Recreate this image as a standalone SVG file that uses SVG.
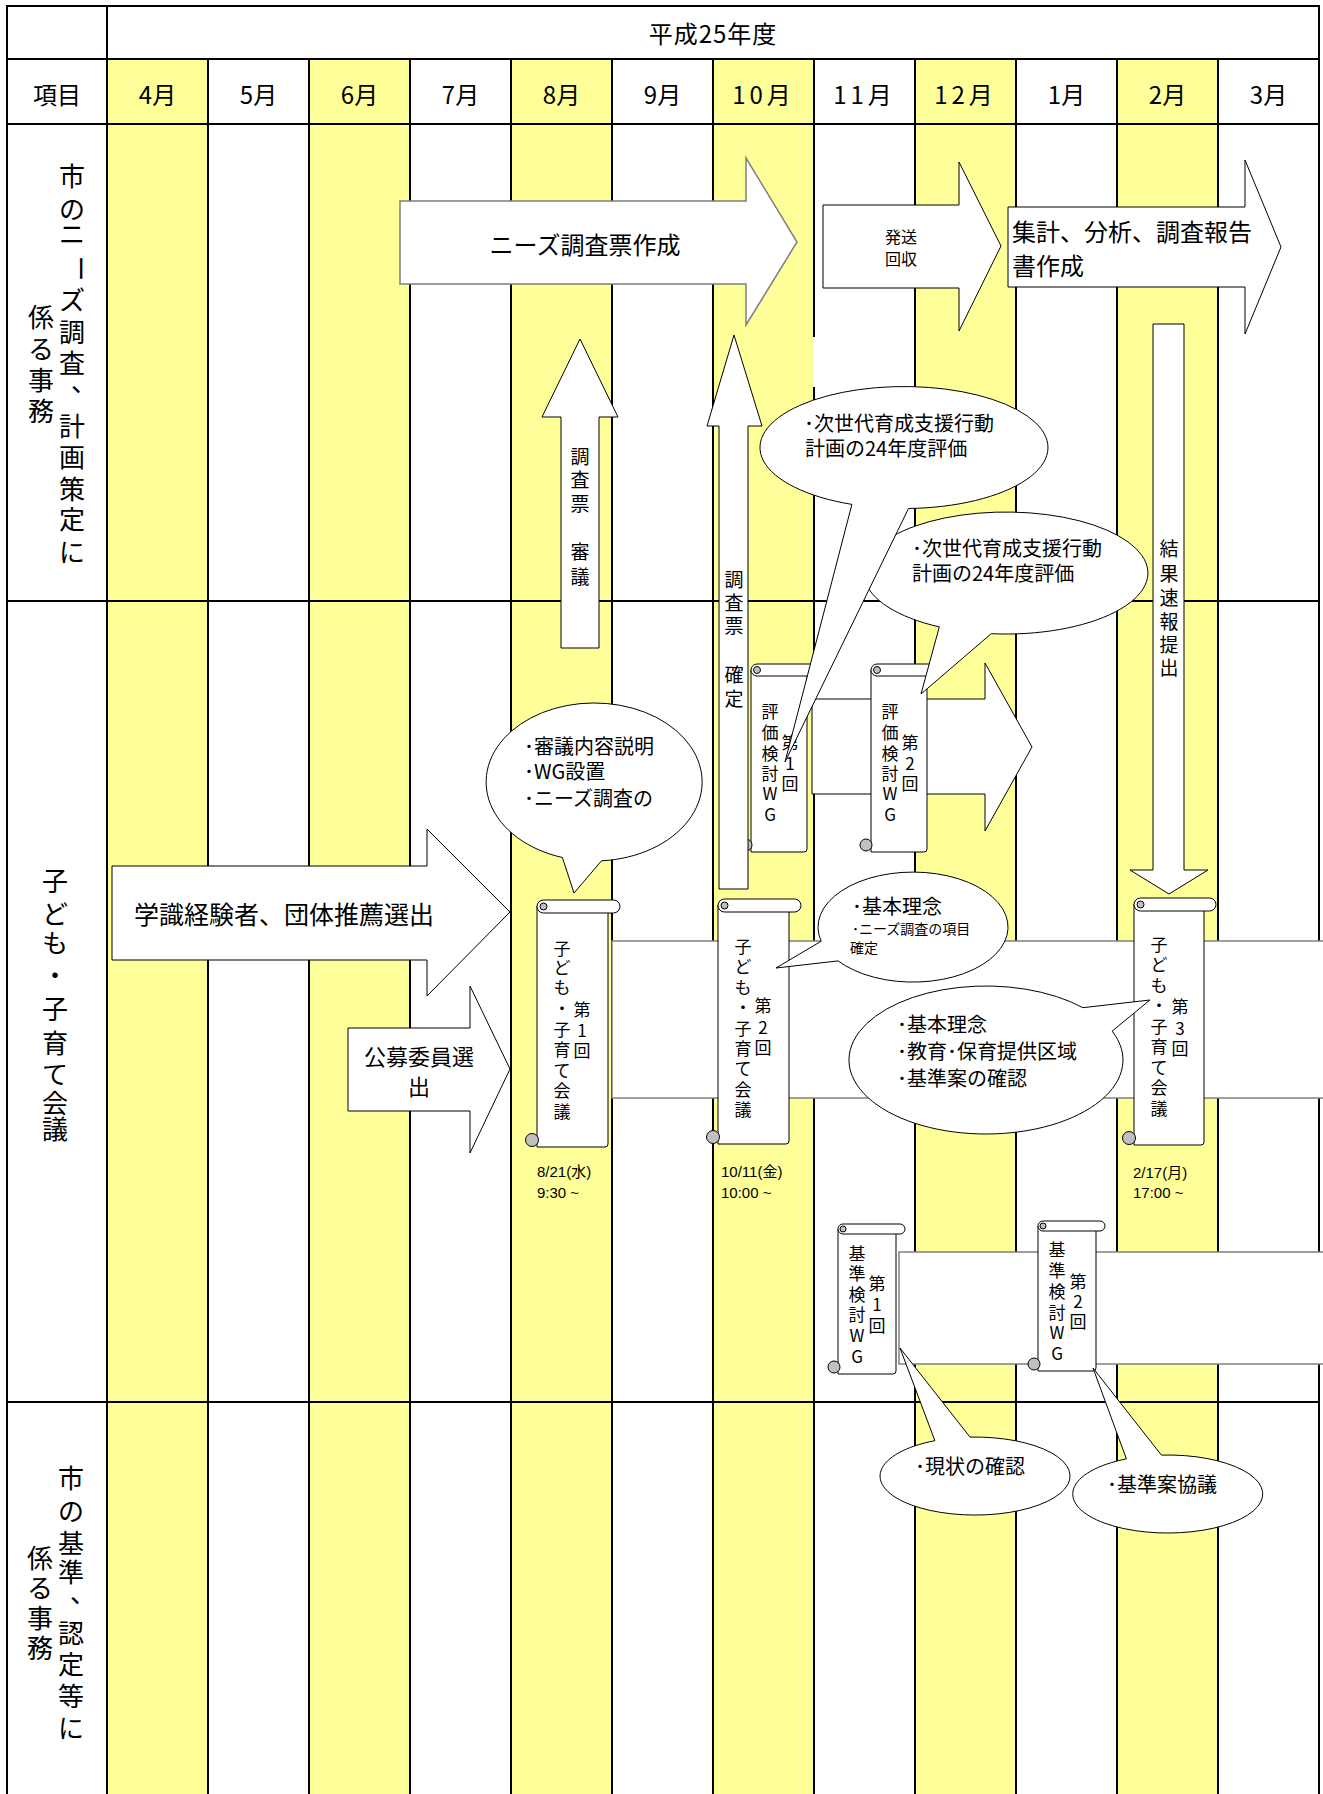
<svg xmlns="http://www.w3.org/2000/svg" width="1323" height="1794" viewBox="0 0 1323 1794">
<defs>
<style>
text{font-family:"Noto Sans CJK JP","Noto Sans",sans-serif;fill:#000;dominant-baseline:central}
.c{text-anchor:middle}
.grid{stroke:#000;stroke-width:2;fill:none}
.yel{fill:#FFFF99}
.arrow{fill:#fff;stroke:#000;stroke-width:1}
.arrowg{fill:#fff;stroke:#7f7f7f;stroke-width:1.5}
.band{fill:#fff;stroke:#808080;stroke-width:1.5}
.scroll{fill:#fff;stroke:#000;stroke-width:1}
.curl{fill:#c0c0c0;stroke:#000;stroke-width:1}
.callout{fill:#fff;stroke:#000;stroke-width:1}
.side{font-size:26px}
.mon{font-size:24px}
.sc{font-size:17px}
.cl{font-size:20px}
.dt{font-size:15px;font-family:"Liberation Sans","Noto Sans CJK JP",sans-serif}
</style>
</defs>
<rect width="1323" height="1794" fill="#fff"/>
<g id="grid">
<rect class="yel" x="107" y="59" width="101" height="1735"/>
<rect class="yel" x="309" y="59" width="101" height="1735"/>
<rect class="yel" x="511" y="59" width="101" height="1735"/>
<rect class="yel" x="713" y="59" width="101" height="1735"/>
<rect class="yel" x="915" y="59" width="101" height="1735"/>
<rect class="yel" x="1117" y="59" width="101" height="1735"/>
<path class="grid" d="M7,6H1319M7,59H1319M7,124H1319M7,601H1319M7,1402H1319M7,5V1794M1319,5V1794M107,6V1794M208,59V1794M309,59V1794M410,59V1794M511,59V1794M612,59V1794M713,59V1794M814,59V337M814,387V1794M915,59V1794M1016,59V1794M1117,59V1794M1218,59V1794"/>
</g>
<g id="header">
<text class="c mon" x="713" y="32" letter-spacing="1">平成25年度</text>
<text class="c mon" x="57" y="93">項目</text>
<text class="c mon" x="157.5" y="93">4月</text>
<text class="c mon" x="258.5" y="93">5月</text>
<text class="c mon" x="359.5" y="93">6月</text>
<text class="c mon" x="460.5" y="93">7月</text>
<text class="c mon" x="561.5" y="93">8月</text>
<text class="c mon" x="662.5" y="93">9月</text>
<text class="c mon" x="763.5" y="93" letter-spacing="4">10月</text>
<text class="c mon" x="864.5" y="93" letter-spacing="4">11月</text>
<text class="c mon" x="965.5" y="93" letter-spacing="4">12月</text>
<text class="c mon" x="1066.5" y="93">1月</text>
<text class="c mon" x="1167.5" y="93">2月</text>
<text class="c mon" x="1268.5" y="93">3月</text>
</g>
<g id="row-labels">
<text class="c side"><tspan x="72" y="174">市</tspan><tspan x="72" y="207">の</tspan><tspan x="72" y="232">ニ</tspan><tspan x="85" y="244" rotate="90">ー</tspan><tspan x="72" y="298">ズ</tspan><tspan x="72" y="330">調</tspan><tspan x="72" y="361">査</tspan><tspan x="84" y="380">、</tspan><tspan x="72" y="424">計</tspan><tspan x="72" y="455">画</tspan><tspan x="72" y="487">策</tspan><tspan x="72" y="517">定</tspan><tspan x="72" y="550">に</tspan><tspan x="41" y="315">係</tspan><tspan x="41" y="347">る</tspan><tspan x="41" y="378">事</tspan><tspan x="41" y="409">務</tspan></text>
<text class="c side"><tspan x="55" y="879">子</tspan><tspan x="55" y="912">ど</tspan><tspan x="55" y="941">も</tspan><tspan x="55" y="973">・</tspan><tspan x="55" y="1007">子</tspan><tspan x="55" y="1041">育</tspan><tspan x="55" y="1072">て</tspan><tspan x="55" y="1101">会</tspan><tspan x="55" y="1127">議</tspan></text>
<text class="c side"><tspan x="71" y="1476">市</tspan><tspan x="71" y="1509">の</tspan><tspan x="71" y="1541">基</tspan><tspan x="71" y="1570">準</tspan><tspan x="83" y="1591">、</tspan><tspan x="71" y="1631">認</tspan><tspan x="71" y="1662">定</tspan><tspan x="71" y="1694">等</tspan><tspan x="71" y="1726">に</tspan><tspan x="40" y="1556">係</tspan><tspan x="40" y="1586">る</tspan><tspan x="40" y="1616">事</tspan><tspan x="40" y="1646">務</tspan></text>
</g>
<g id="connectors">
<rect id="band-kaigi" class="band" x="612" y="941" width="715" height="157"/>
<rect id="band-kijun" class="band" x="899" y="1252" width="428" height="112"/>
<g id="arrow-needs">
<polygon class="arrowg" points="400,201 746,201 746,158 797,242 746,325 746,284 400,284"/>
<text class="c" x="585" y="243" font-size="24">ニーズ調査票作成</text>
</g>
<g id="arrow-hassou">
<polygon class="arrow" points="823,205 959,205 959,162 1001,246 959,331 959,288 823,288"/>
<text class="c" x="901" y="236" font-size="16">発送</text>
<text class="c" x="901" y="258" font-size="16">回収</text>
</g>
<g id="arrow-shukei">
<polygon class="arrow" points="1008,207 1245,207 1245,160 1281,247 1245,334 1245,287 1008,287"/>
<text x="1012" y="230" font-size="24">集計、分析、調査報告</text>
<text x="1012" y="264" font-size="24">書作成</text>
</g>
<g id="arrow-shingi">
<polygon class="arrow" points="561,648 561,417 542,417 580,339 618,417 599,417 599,648"/>
<text class="c" font-size="19"><tspan x="580" y="455">調</tspan><tspan x="580" y="478">査</tspan><tspan x="580" y="502">票</tspan><tspan x="580" y="550">審</tspan><tspan x="580" y="575">議</tspan></text>
</g>
<g id="arrow-sokuhou">
<polygon class="arrow" points="1153,324 1184,324 1184,870 1208,870 1169,894 1130,870 1153,870"/>
<text class="c" font-size="19"><tspan x="1169" y="547">結</tspan><tspan x="1169" y="572">果</tspan><tspan x="1169" y="596">速</tspan><tspan x="1169" y="620">報</tspan><tspan x="1169" y="643">提</tspan><tspan x="1169" y="666">出</tspan></text>
</g>
<g id="arrow-hyouka">
<polygon class="arrow" points="812,699 985,699 985,663 1032,747 985,831 985,794 812,794"/>
</g>
<g id="arrow-gakushiki">
<polygon class="arrow" points="112,866 427,866 427,829 510,912 427,996 427,960 112,960"/>
<text x="134" y="913" font-size="25">学識経験者、団体推薦選出</text>
</g>
<g id="arrow-koubo">
<polygon class="arrow" points="348,1028 470,1028 470,986 510,1069 470,1153 470,1111 348,1111"/>
<text class="c" x="419" y="1055" font-size="22">公募委員選</text>
<text class="c" x="419" y="1085" font-size="22">出</text>
</g>
</g>
<g id="scroll-hyouka1">
<path class="scroll" d="M751,670V852H804Q807,852 807,849V670Z"/>
<rect class="scroll" x="751" y="664" width="67" height="12" rx="6"/>
<circle class="curl" cx="757" cy="670" r="3.5"/>
<circle class="curl" cx="746" cy="845" r="6"/>
<text class="c sc"><tspan x="790" y="741">第</tspan><tspan x="790" y="762">1</tspan><tspan x="790" y="782">回</tspan><tspan x="770" y="710">評</tspan><tspan x="770" y="731">価</tspan><tspan x="770" y="752">検</tspan><tspan x="770" y="772">討</tspan><tspan x="770" y="792">W</tspan><tspan x="770" y="813">G</tspan></text>
</g>
<g id="scroll-hyouka2">
<path class="scroll" d="M871,670V852H924Q927,852 927,849V670Z"/>
<rect class="scroll" x="871" y="664" width="67" height="12" rx="6"/>
<circle class="curl" cx="877" cy="670" r="3.5"/>
<circle class="curl" cx="866" cy="845" r="6"/>
<text class="c sc"><tspan x="910" y="741">第</tspan><tspan x="910" y="762">2</tspan><tspan x="910" y="782">回</tspan><tspan x="890" y="710">評</tspan><tspan x="890" y="731">価</tspan><tspan x="890" y="752">検</tspan><tspan x="890" y="772">討</tspan><tspan x="890" y="792">W</tspan><tspan x="890" y="813">G</tspan></text>
</g>
<g id="scroll-kaigi1">
<path class="scroll" d="M537,906V1147H605Q608,1147 608,1144V906Z"/>
<rect class="scroll" x="537" y="900" width="83" height="13" rx="6.5"/>
<circle class="curl" cx="543.5" cy="906.5" r="3.5"/>
<circle class="curl" cx="532" cy="1140" r="6.5"/>
<text class="c sc"><tspan x="582" y="1008">第</tspan><tspan x="582" y="1029">1</tspan><tspan x="582" y="1049">回</tspan><tspan x="562" y="947">子</tspan><tspan x="562" y="966">ど</tspan><tspan x="562" y="986">も</tspan><tspan x="562" y="1007">・</tspan><tspan x="562" y="1028">子</tspan><tspan x="562" y="1048">育</tspan><tspan x="562" y="1069">て</tspan><tspan x="562" y="1089">会</tspan><tspan x="562" y="1110">議</tspan></text>
<text class="dt" x="537" y="1171">8/21(水)</text>
<text class="dt" x="537" y="1192">9:30 ~</text>
</g>
<g id="scroll-kaigi2">
<path class="scroll" d="M718,905V1144H786Q789,1144 789,1141V905Z"/>
<rect class="scroll" x="718" y="899" width="83" height="13" rx="6.5"/>
<circle class="curl" cx="724.5" cy="905.5" r="3.5"/>
<circle class="curl" cx="713" cy="1137" r="6.5"/>
<text class="c sc"><tspan x="763" y="1004">第</tspan><tspan x="763" y="1026">2</tspan><tspan x="763" y="1046">回</tspan><tspan x="743" y="945">子</tspan><tspan x="743" y="965">ど</tspan><tspan x="743" y="986">も</tspan><tspan x="743" y="1006">・</tspan><tspan x="743" y="1027">子</tspan><tspan x="743" y="1047">育</tspan><tspan x="743" y="1067">て</tspan><tspan x="743" y="1088">会</tspan><tspan x="743" y="1108">議</tspan></text>
<text class="dt" x="721" y="1171">10/11(金)</text>
<text class="dt" x="721" y="1192">10:00 ~</text>
</g>
<g id="scroll-kaigi3">
<path class="scroll" d="M1134,904V1145H1201Q1204,1145 1204,1142V904Z"/>
<rect class="scroll" x="1134" y="898" width="82" height="13" rx="6.5"/>
<circle class="curl" cx="1140.5" cy="904.5" r="3.5"/>
<circle class="curl" cx="1129" cy="1138" r="6.5"/>
<text class="c sc"><tspan x="1180" y="1005">第</tspan><tspan x="1180" y="1027">3</tspan><tspan x="1180" y="1047">回</tspan><tspan x="1159" y="943">子</tspan><tspan x="1159" y="963">ど</tspan><tspan x="1159" y="984">も</tspan><tspan x="1159" y="1004">・</tspan><tspan x="1159" y="1025">子</tspan><tspan x="1159" y="1045">育</tspan><tspan x="1159" y="1066">て</tspan><tspan x="1159" y="1086">会</tspan><tspan x="1159" y="1107">議</tspan></text>
<text class="dt" x="1133" y="1172">2/17(月)</text>
<text class="dt" x="1133" y="1192">17:00 ~</text>
</g>
<g id="scroll-kijun1">
<path class="scroll" d="M838,1229V1374H893Q896,1374 896,1371V1229Z"/>
<rect class="scroll" x="838" y="1224" width="67" height="10" rx="5"/>
<circle class="curl" cx="843" cy="1229" r="3"/>
<circle class="curl" cx="834" cy="1367" r="6"/>
<text class="c sc"><tspan x="877" y="1282">第</tspan><tspan x="877" y="1303">1</tspan><tspan x="877" y="1324">回</tspan><tspan x="857" y="1252">基</tspan><tspan x="857" y="1272">準</tspan><tspan x="857" y="1293">検</tspan><tspan x="857" y="1313">討</tspan><tspan x="857" y="1334">W</tspan><tspan x="857" y="1355">G</tspan></text>
</g>
<g id="scroll-kijun2">
<path class="scroll" d="M1038,1226V1371H1093Q1096,1371 1096,1368V1226Z"/>
<rect class="scroll" x="1038" y="1221" width="67" height="10" rx="5"/>
<circle class="curl" cx="1043" cy="1226" r="3"/>
<circle class="curl" cx="1034" cy="1364" r="6"/>
<text class="c sc"><tspan x="1078" y="1280">第</tspan><tspan x="1078" y="1300">2</tspan><tspan x="1078" y="1320">回</tspan><tspan x="1057" y="1248">基</tspan><tspan x="1057" y="1269">準</tspan><tspan x="1057" y="1290">検</tspan><tspan x="1057" y="1311">討</tspan><tspan x="1057" y="1331">W</tspan><tspan x="1057" y="1352">G</tspan></text>
</g>
<g id="arrow-kakutei">
<polygon class="arrow" points="719,889 719,426 707,426 734,335 762,426 748,426 748,889"/>
<text class="c" font-size="19"><tspan x="734" y="578">調</tspan><tspan x="734" y="601">査</tspan><tspan x="734" y="624">票</tspan><tspan x="734" y="673">確</tspan><tspan x="734" y="697">定</tspan></text>
</g>
<g id="callout-shingi">
<path class="callout" d="M562.4,857.5A108,79 0 1 1 601.5,860.8L574,893Z"/>
<text class="cl" x="524" y="745">･審議内容説明</text>
<text class="cl" x="524" y="770">･WG設置</text>
<text class="cl" x="524" y="797">･ニーズ調査の</text>
</g>
<g id="callout-jisedai2">
<path class="callout" d="M939.3,626.9A142,61 0 1 1 991.2,633.7L921,694Z"/>
<text class="cl" x="912" y="547">･次世代育成支援行動</text>
<text class="cl" x="912" y="572">計画の24年度評価</text>
</g>
<g id="callout-jisedai1">
<path class="callout" d="M851.9,504.4A144,61 0 1 1 908.5,508.5L785,762Z"/>
<text class="cl" x="804" y="422">･次世代育成支援行動</text>
<text class="cl" x="805" y="447">計画の24年度評価</text>
</g>
<g id="callout-kihon1">
<path class="callout" d="M821.2,941.2A95,55 0 1 1 838.1,960.9L776,968Z"/>
<text class="cl" x="852" y="905">･基本理念</text>
<text x="852" y="928" font-size="14">･ニーズ調査の項目</text>
<text x="850" y="947" font-size="14">確定</text>
</g>
<g id="callout-kihon2">
<path class="callout" d="M1112.1,1031.1A137,74 0 1 1 1082.9,1007.7L1150,1000Z"/>
<text class="cl" x="897" y="1023">･基本理念</text>
<text class="cl" x="897" y="1050">･教育･保育提供区域</text>
<text class="cl" x="897" y="1077">･基準案の確認</text>
</g>
<g id="callout-genjou">
<path class="callout" d="M970,1437.1A95,39 0 1 1 934.9,1440.7L900,1348Z"/>
<text class="cl" x="915" y="1465">･現状の確認</text>
</g>
<g id="callout-kyougi">
<path class="callout" d="M1161.4,1455.1A95,39 0 1 1 1126.4,1458.9L1093,1368Z"/>
<text class="cl" x="1107" y="1483">･基準案協議</text>
</g>
</svg>
